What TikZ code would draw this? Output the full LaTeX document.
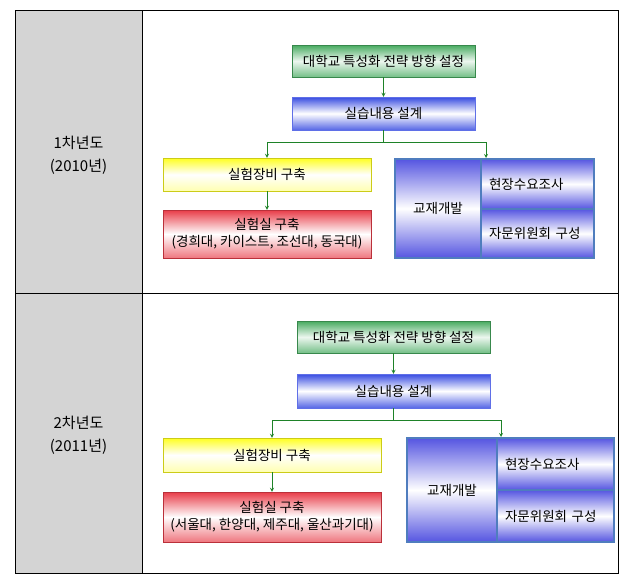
\documentclass[tikz,border=0pt]{standalone}
\usepackage{fontspec}
\setmainfont{Noto Sans CJK KR}
\usepackage{xcolor}
\usetikzlibrary{arrows,positioning,calc}

\definecolor{cellgray}{RGB}{212,212,212}
\definecolor{boxgreen}{RGB}{70,170,95}
\definecolor{boxblue}{RGB}{55,75,225}
\definecolor{boxyellow}{RGB}{255,255,30}
\definecolor{boxred}{RGB}{232,60,72}
\definecolor{frameblue}{RGB}{79,125,190}
\definecolor{cellblue}{RGB}{85,85,225}
\definecolor{linkgreen}{RGB}{30,130,40}

\begin{document}
\spaceskip=4.5pt plus 1pt\relax
\begin{tikzpicture}[
    x=1pt, y=-1pt,
    font=\fontsize{13.5}{16}\selectfont,
    year/.style={align=center, font=\fontsize{15}{23}\selectfont},
    strategy/.style={rectangle, draw=boxgreen!80!black, top color=boxgreen, bottom color=boxgreen!75, middle color=boxgreen!10, inner sep=0pt},
    design/.style={rectangle, draw=boxblue!80, top color=boxblue, bottom color=boxblue!85, middle color=white, inner sep=0pt},
    equip/.style={rectangle, draw=boxyellow!80!black, top color=boxyellow, bottom color=boxyellow!35, middle color=white, inner sep=0pt},
    lab/.style={rectangle, draw=boxred!80!black, top color=boxred, bottom color=boxred!70, middle color=white, align=center, inner sep=0pt, font=\fontsize{13.5}{17}\selectfont},
    cell/.style={rectangle, draw=frameblue, line width=2pt, top color=cellblue, bottom color=cellblue, middle color=white, inner sep=0pt},
    subcell/.style={cell, align=left, inner xsep=8pt},
    arrow/.style={->, >=stealth, draw=linkgreen, line width=0.8pt}
]
\useasboundingbox (0,0) rectangle (629,576);

% Table
\fill[cellgray] (15,10) rectangle (142,573);
\draw[line width=0.8pt] (15,10) rectangle (618,573);
\draw[line width=0.8pt] (142,10) -- (142,573);
\draw[line width=0.8pt] (15,293) -- (618,293);

% Years
\node[year] (yr1) at (78.5,155) {1차년도\\(2010년)};
\node[year] (yr2) at (78.5,435) {2차년도\\(2011년)};

% First year
\node[strategy, minimum width=183pt, minimum height=32pt] (strat1) at (383.5,61) {대학교 특성화 전략 방향 설정};
\node[design, minimum width=183pt, minimum height=33pt] (design1) at (383.5,113.5) {실습내용 설계};
\node[equip, minimum width=208pt, minimum height=33pt] (equip1) at (267,174.5) {실험장비 구축};
\node[lab, minimum width=208pt, minimum height=48pt] (lab1) at (267,234) {실험실 구축\\(경희대, 카이스트, 조선대, 동국대)};
\node[cell, minimum width=86pt, minimum height=99pt] (text1) at (438,208.5) {교재개발};
\node[subcell, text width=97pt, minimum height=50pt] (survey1) at (537.5,184) {현장수요조사};
\node[subcell, text width=97pt, minimum height=49pt] (board1) at (537.5,233.5) {자문위원회 구성};

% Second year
\node[strategy, minimum width=193pt, minimum height=32pt] (strat2) at (393.5,337) {대학교 특성화 전략 방향 설정};
\node[design, minimum width=193pt, minimum height=34pt] (design2) at (393.5,391) {실습내용 설계};
\node[equip, minimum width=218pt, minimum height=34pt] (equip2) at (272,455) {실험장비 구축};
\node[lab, minimum width=218pt, minimum height=50pt] (lab2) at (272,517) {실험실 구축\\(서울대, 한양대, 제주대, 울산과기대)};
\node[cell, minimum width=90pt, minimum height=104pt] (text2) at (452,490) {교재개발};
\node[subcell, text width=101pt, minimum height=52pt] (survey2) at (555.5,464) {현장수요조사};
\node[subcell, text width=101pt, minimum height=52pt] (board2) at (555.5,516) {자문위원회 구성};

% Arrows
\draw[arrow] (strat1) -- (design1);
\draw[arrow] (design1.south) -- ++(0,12) -| (equip1.north);
\draw[arrow] (design1.south) -- ++(0,12) -| ([xshift=6pt]survey1.north west);
\draw[arrow] (equip1) -- (lab1);

\draw[arrow] (strat2) -- (design2);
\draw[arrow] (design2.south) -- ++(0,12) -| (equip2.north);
\draw[arrow] (design2.south) -- ++(0,12) -| ([xshift=5pt]survey2.north west);
\draw[arrow] (equip2) -- (lab2);

\end{tikzpicture}
\end{document}
